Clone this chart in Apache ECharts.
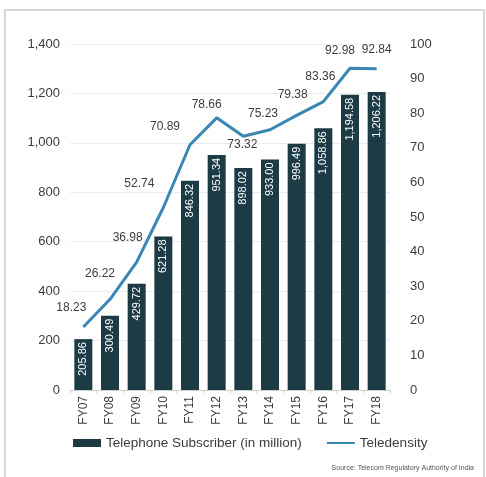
<!DOCTYPE html>
<html>
<head>
<meta charset="utf-8">
<script src="https://cdn.jsdelivr.net/npm/echarts@6/dist/echarts.min.js"></script>
<style>
  html, body { margin: 0; padding: 0; background: #ffffff; }
  #chart { width: 486px; height: 477px; }
</style>
</head>
<body>
<div id="chart"></div>
<script>
// Fiscal years
var categories = ['FY07', 'FY08', 'FY09', 'FY10', 'FY11', 'FY12', 'FY13', 'FY14', 'FY15', 'FY16', 'FY17', 'FY18'];
// Telephone subscribers, in million
var subscribers = [205.86, 300.49, 429.72, 621.28, 846.32, 951.34, 898.02, 933.00, 996.49, 1058.86, 1194.58, 1206.22];
// Teledensity, per 100 population
var teledensity = [18.23, 26.22, 36.98, 52.74, 70.89, 78.66, 73.32, 75.23, 79.38, 83.36, 92.98, 92.84];
// Axis ranges
var leftMax = 1400, leftStep = 200;
var rightMax = 100, rightStep = 10;

// Teledensity label side and nudge [dx, dy] for each point
var labelSide = ['top', 'top', 'top', 'top', 'top', 'top', 'bottom', 'top', 'top', 'top', 'top', 'top'];
var labelNudge = [
  [-12, -7], [-10, -14], [-9, -12], [-24, -12], [-25, -6], [-10, -1],
  [-1, -4], [-7, -4], [-4, -9], [-3, -13], [-10, -6], [0, -7]
];

var lineData = teledensity.map(function (v, i) {
  return { value: v, label: { position: labelSide[i] } };
});

function fmtThousands(v) {
  return String(v).replace(/\B(?=(\d{3})+(?!\d))/g, ',');
}

var chart = echarts.init(document.getElementById('chart'), null, { renderer: 'canvas' });
var textColor = '#3c3c3c';
var lineColor = '#3a86b4';
var font = 'Liberation Sans, Arial, sans-serif';

chart.setOption({
  animation: false,
  textStyle: { fontFamily: font },
  grid: { left: 70, right: 96, top: 44, bottom: 87 },
  graphic: [
    {
      type: 'rect',
      shape: { x: 5, y: 10, width: 479, height: 470 },
      style: { fill: 'none', stroke: '#d6d6d6', lineWidth: 2 },
      silent: true
    },
    {
      type: 'text',
      right: 12,
      top: 465,
      style: {
        text: 'Source: Telecom Regulatory Authority of India',
        fill: '#555555',
        font: '7px ' + font
      }
    }
  ],
  legend: {
    left: 68,
    top: 431,
    itemWidth: 28,
    itemHeight: 8,
    itemGap: 24,
    textStyle: { color: textColor, fontSize: 13.5, fontFamily: font },
    data: [
      { name: 'Telephone Subscriber (in million)', icon: 'rect' },
      { name: 'Teledensity', itemStyle: { opacity: 0 }, lineStyle: { color: lineColor, width: 2 } }
    ]
  },
  xAxis: {
    type: 'category',
    data: categories,
    axisLine: { lineStyle: { color: '#cfcfcf' } },
    axisTick: { show: true, length: 3, lineStyle: { color: '#cfcfcf' } },
    axisLabel: { rotate: 90, color: textColor, fontSize: 12, margin: 6, fontFamily: font }
  },
  yAxis: [
    {
      type: 'value',
      min: 0,
      max: leftMax,
      interval: leftStep,
      axisLine: { show: false },
      axisTick: { show: false },
      splitLine: { lineStyle: { color: '#ececec' } },
      axisLabel: { color: textColor, fontSize: 13, margin: 10, formatter: fmtThousands, fontFamily: font }
    },
    {
      type: 'value',
      min: 0,
      max: rightMax,
      interval: rightStep,
      position: 'right',
      axisLine: { show: false },
      axisTick: { show: false },
      splitLine: { show: false },
      axisLabel: { color: textColor, fontSize: 13, margin: 20, fontFamily: font }
    }
  ],
  series: [
    {
      name: 'Telephone Subscriber (in million)',
      type: 'bar',
      data: subscribers,
      barWidth: 18,
      itemStyle: { color: '#1c3b45' },
      label: {
        show: true,
        position: 'insideTop',
        rotate: 90,
        align: 'right',
        verticalAlign: 'middle',
        distance: 3,
        color: '#ffffff',
        fontSize: 11,
        fontFamily: font,
        formatter: function (p) { return fmtThousands(p.value.toFixed(2)); }
      }
    },
    {
      name: 'Teledensity',
      type: 'line',
      yAxisIndex: 1,
      data: lineData,
      symbol: 'circle',
      symbolSize: 2,
      showSymbol: true,
      showAllSymbol: true,
      lineStyle: { color: lineColor, width: 3 },
      itemStyle: { color: 'rgba(0,0,0,0)', borderWidth: 0 },
      label: {
        show: true,
        color: textColor,
        fontSize: 12,
        fontFamily: font,
        formatter: function (p) { return p.value.toFixed(2); }
      },
      labelLayout: function (params) {
        var n = labelNudge[params.dataIndex];
        return { dx: n[0], dy: n[1], hideOverlap: false };
      }
    }
  ]
});
</script>
</body>
</html>
